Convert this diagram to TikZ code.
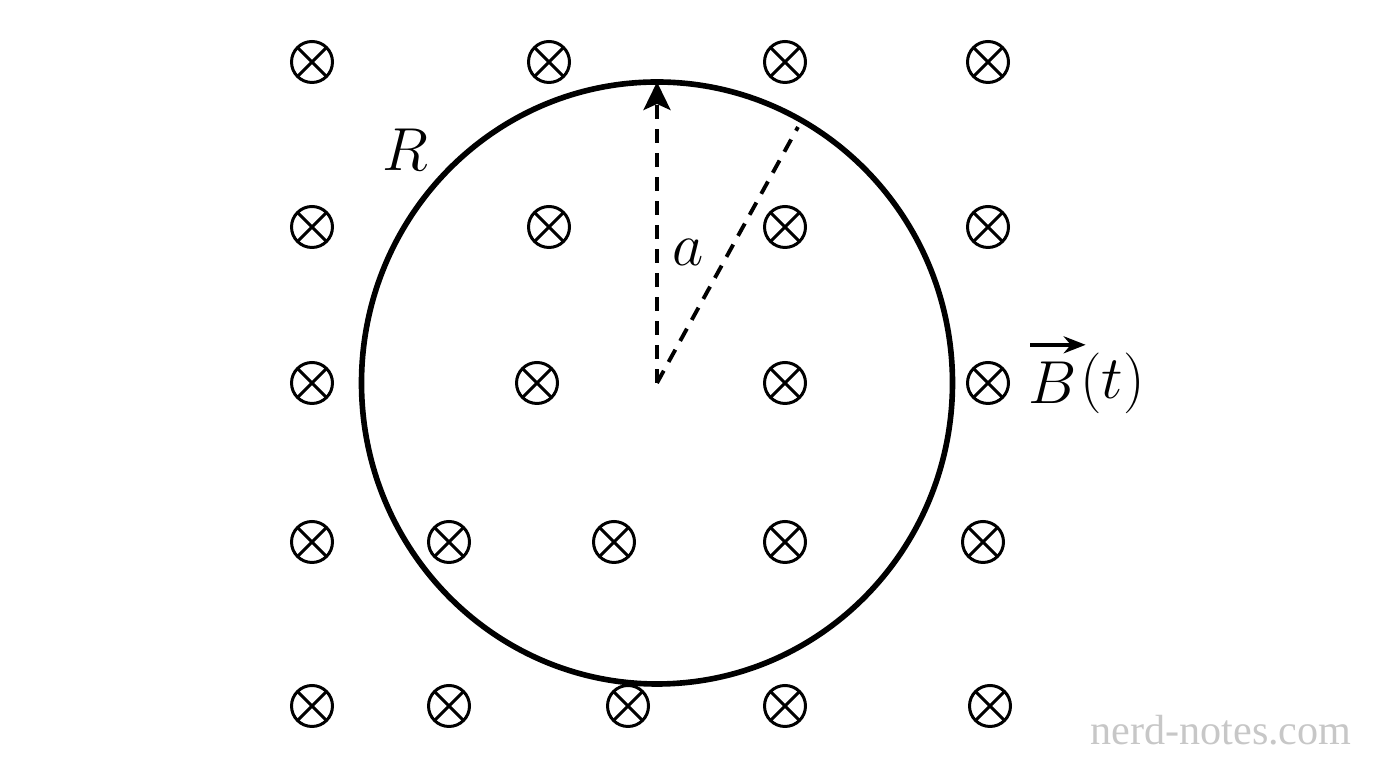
\documentclass[tikz,border=0pt]{standalone}
\usepackage{fontspec}
\newfontfamily\markfont{Liberation Serif}
\usetikzlibrary{arrows.meta}
\tikzset{
  fieldin/.style = {circle, draw=black, line width=0.85pt, inner sep=0pt,
    minimum size=0.41cm,
    path picture={\draw[line width=0.85pt]
      (path picture bounding box.north west) -- (path picture bounding box.south east)
      (path picture bounding box.north east) -- (path picture bounding box.south west);}},% champ entrant
  radius/.style = {dashed, line width=1.1pt, dash pattern=on 0.14cm off 0.1cm},
  lbl/.style = {font=\fontsize{18}{21}\selectfont}
}
\begin{document}
\begin{tikzpicture}
  \useasboundingbox (0,0) rectangle (13.76,7.68);
  % champ magnetique
  \foreach \x [count=\i] in {3.12, 5.49, 7.85, 9.88}
    \node [fieldin] (f1\i) at (\x,7.06) {};
  \foreach \x [count=\i] in {3.12, 5.49, 7.85, 9.88}
    \node [fieldin] (f2\i) at (\x,5.41) {};
  \foreach \x [count=\i] in {3.12, 5.37, 7.85, 9.88}
    \node [fieldin] (f3\i) at (\x,3.85) {};
  \foreach \x [count=\i] in {3.12, 4.49, 6.14, 7.85, 9.83}
    \node [fieldin] (f4\i) at (\x,2.26) {};
  \foreach \x [count=\i] in {3.12, 4.49, 6.28, 7.85, 9.90}
    \node [fieldin] (f5\i) at (\x,0.62) {};
  % boucle
  \coordinate (center) at (6.57,3.85);
  \draw [line width=1.6pt] (center) ellipse [x radius=2.955, y radius=3.01];
  \coordinate (top) at (6.57,6.86);
  \coordinate (rim) at (7.98,6.41);
  \draw [radius, -{Stealth[length=0.28cm, width=0.27cm, inset=0.06cm]}] (center) -- (top);
  \draw [radius] (center) -- (rim);
  % etiquettes
  \node [lbl] (rlabel) at (4.05,6.18) {$R$};
  \node [lbl] (alabel) at (6.88,5.16) {$a$};
  \node [lbl, anchor=west, inner xsep=0pt] (bsym) at (10.28,3.85) {$B$};
  \node [lbl, anchor=west, inner xsep=0.5pt] (blabel) at (bsym.east) {$(t)$};
  \draw [line width=1.1pt, -{Stealth[length=0.22cm, width=0.17cm]}]
    ([xshift=0.02cm, yshift=0.05cm]bsym.north west) -- ([xshift=0.08cm, yshift=0.05cm]bsym.north east);
  \node [font=\markfont\fontsize{12}{14}\selectfont, text=black!22] (mark) at (12.21,0.38) {nerd-notes.com};
\end{tikzpicture}
\end{document}
